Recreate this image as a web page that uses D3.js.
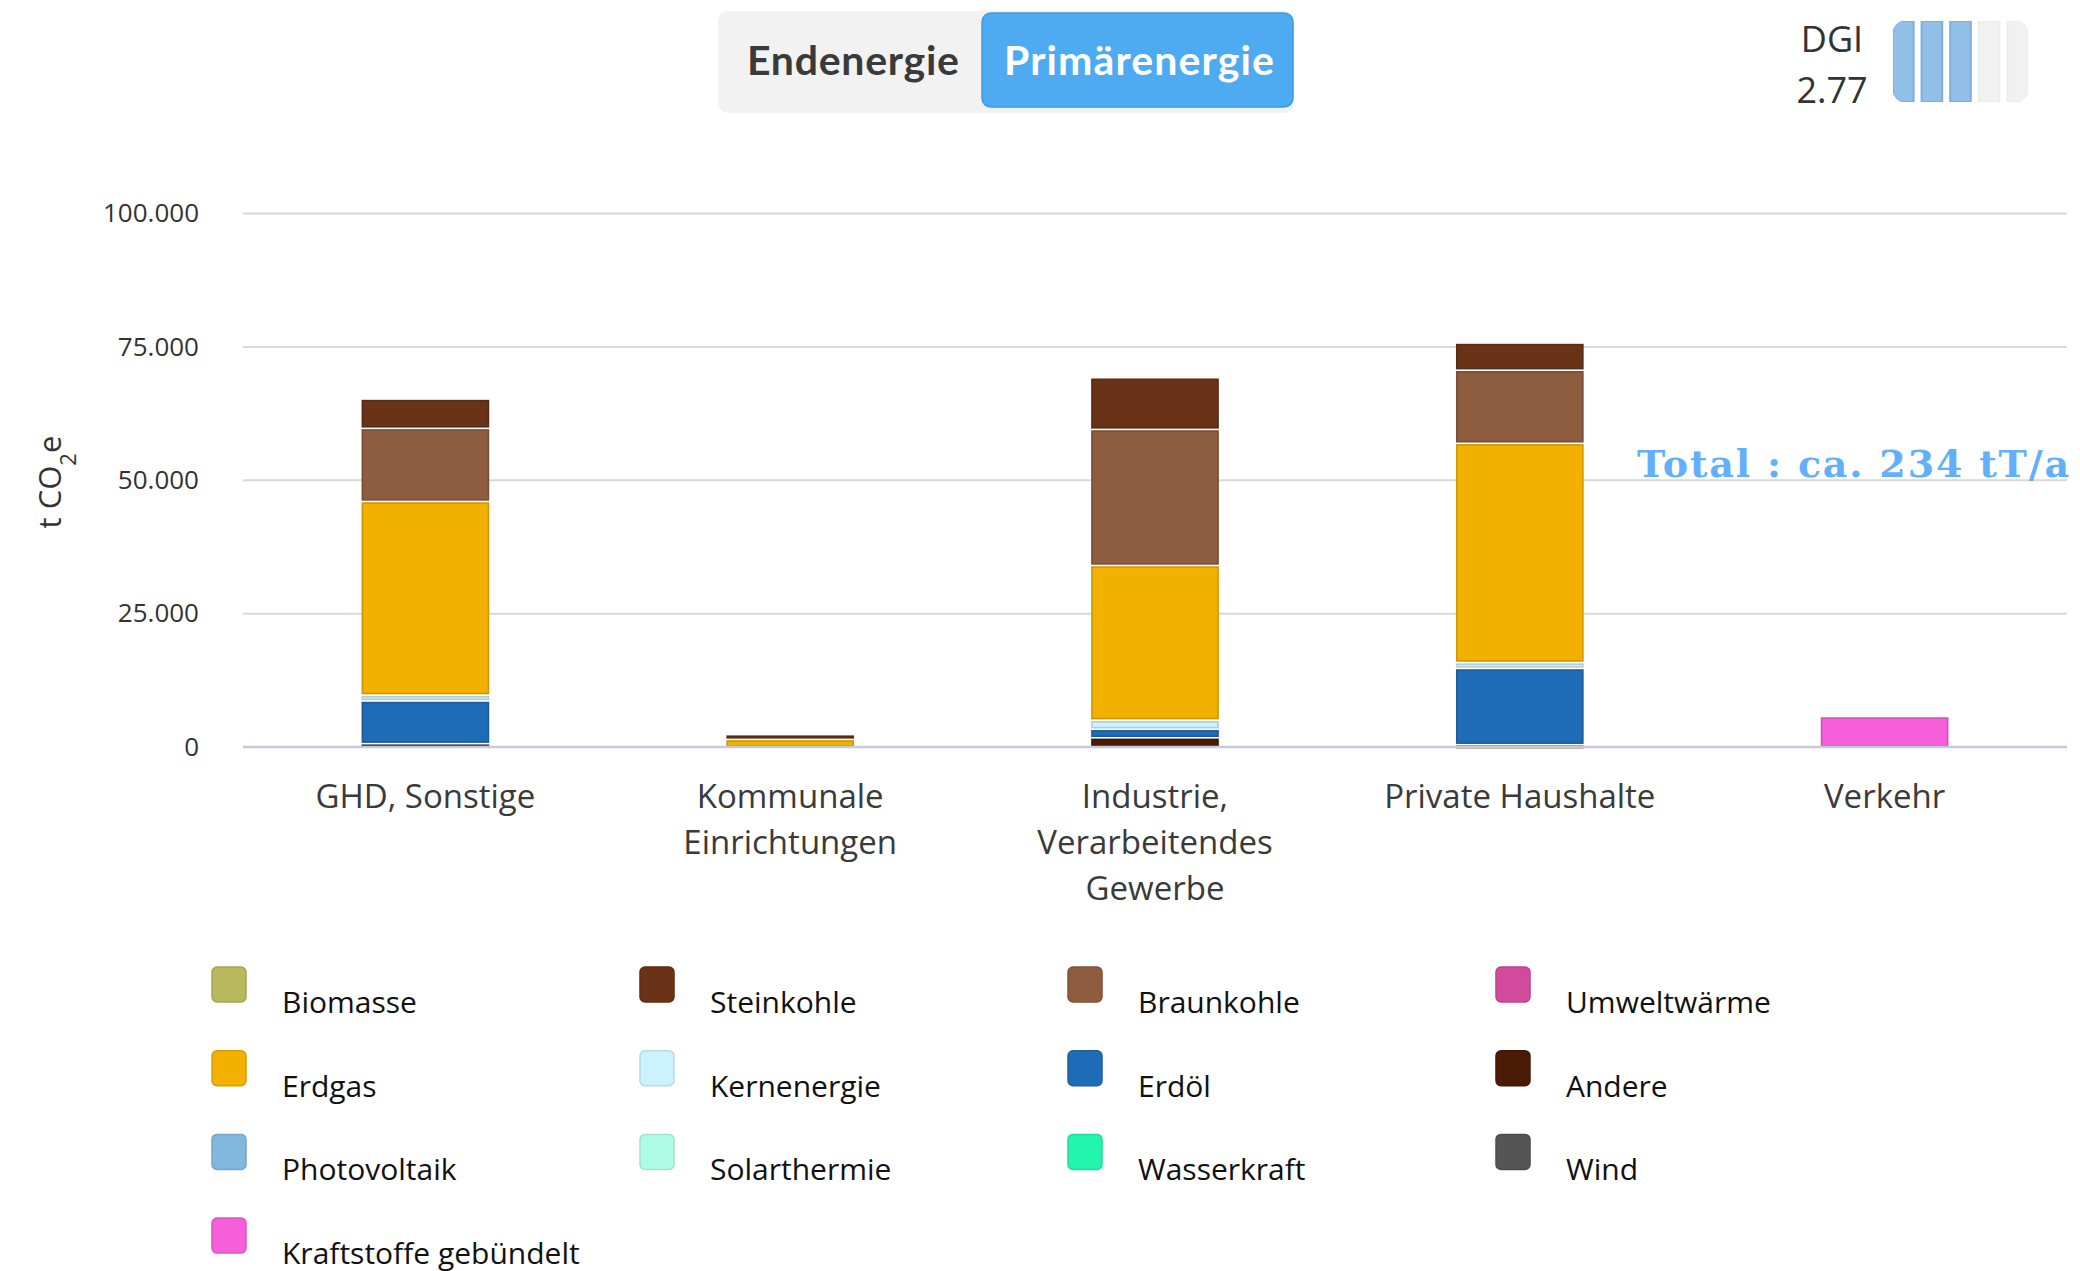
<!DOCTYPE html>
<html>
<head>
<meta charset="utf-8">
<script src="https://cdn.jsdelivr.net/npm/d3@7"></script>
<style>
  body { margin: 0; background: #fff; }
  svg { display: block; font-family: "Open Sans", sans-serif; }
</style>
</head>
<body>
<div id="chart"></div>
<script>
// categories and their wrapped labels
let categories = ["GHD, Sonstige", "Kommunale Einrichtungen", "Industrie, Verarbeitendes Gewerbe", "Private Haushalte", "Verkehr"];
let categoryLines = [["GHD, Sonstige"], ["Kommunale", "Einrichtungen"], ["Industrie,", "Verarbeitendes", "Gewerbe"], ["Private Haushalte"], ["Verkehr"]];

// series in legend order (first series sits on top of the stack)
let seriesNames = ["Biomasse", "Steinkohle", "Braunkohle", "Umweltwärme", "Erdgas", "Kernenergie", "Erdöl", "Andere",
  "Photovoltaik", "Solarthermie", "Wasserkraft", "Wind", "Kraftstoffe gebündelt"];
let seriesColors = ["#b8b85c", "#6a3216", "#8e5c3e", "#d24a9c", "#f2b000", "#ccf2ff", "#1f6cb6", "#4a1c06",
  "#82b8df", "#b0fbe6", "#24f5ae", "#555555", "#f55fd9"];

// t CO2e per category
let biomasse     = [0, 0, 0, 0, 0];
let steinkohle   = [5500, 900, 9700, 5100, 0];
let braunkohle   = [13700, 0, 25500, 13700, 0];
let umweltwaerme = [0, 0, 0, 0, 0];
let erdgas       = [36300, 1500, 29000, 41100, 0];
let kernenergie  = [1100, 0, 1700, 1100, 0];
let erdoel       = [8000, 0, 1600, 14300, 0];
let andere       = [700, 0, 1800, 500, 0];
let photovoltaik = [0, 0, 0, 0, 0];
let solarthermie = [0, 0, 0, 0, 0];
let wasserkraft  = [0, 0, 0, 0, 0];
let wind         = [0, 0, 0, 0, 0];
let kraftstoffe  = [0, 0, 0, 0, 5800];

let seriesValues = [biomasse, steinkohle, braunkohle, umweltwaerme, erdgas, kernenergie, erdoel, andere,
  photovoltaik, solarthermie, wasserkraft, wind, kraftstoffe];

let yTicks = [0, 25000, 50000, 75000, 100000];
let totalLabel = "Total : ca. 234 tT/a";
let dgiValue = "2.77";
let dgiLevel = 3; // of 5 bars

let svgWidth = 2080;
let svgHeight = 1271;

let margin = { top: 213.5, right: 13, bottom: 524, left: 243 };
let width = svgWidth - margin.left - margin.right;
let height = svgHeight - margin.top - margin.bottom;

let svg = d3.select("#chart")
  .append("svg")
  .attr("width", svgWidth)
  .attr("height", svgHeight);

// ---- toggle buttons ----
let toggle = svg.append("g");
toggle.append("rect")
  .attr("x", 718).attr("y", 11).attr("width", 576).attr("height", 102)
  .attr("rx", 10).attr("fill", "#f2f2f2");
toggle.append("rect")
  .attr("x", 982).attr("y", 13).attr("width", 311).attr("height", 94)
  .attr("rx", 9).attr("fill", "#4eabf1").attr("stroke", "#3f9be6").attr("stroke-width", 1.5);
toggle.append("text")
  .attr("x", 853).attr("y", 75)
  .attr("text-anchor", "middle")
  .attr("textLength", 212)
  .style("font-family", "Lato, sans-serif").style("font-weight", 700).style("font-size", "41px")
  .attr("fill", "#3a3a3a")
  .text("Endenergie");
toggle.append("text")
  .attr("x", 1139).attr("y", 75)
  .attr("text-anchor", "middle")
  .attr("textLength", 270)
  .style("font-family", "Lato, sans-serif").style("font-weight", 700).style("font-size", "41px")
  .attr("fill", "#fff")
  .text("Primärenergie");

// ---- DGI indicator ----
let dgi = svg.append("g");
dgi.append("text").attr("x", 1832).attr("y", 52).attr("text-anchor", "middle")
  .style("font-size", "36px").attr("fill", "#333").text("DGI");
dgi.append("text").attr("x", 1832).attr("y", 103).attr("text-anchor", "middle")
  .style("font-size", "36px").attr("fill", "#333").text(dgiValue);

let dgiX = d3.scaleBand().domain(d3.range(5)).range([1893, 2028]).paddingInner(0.28);
dgi.append("clipPath").attr("id", "dgiClip")
  .append("rect").attr("x", 1893).attr("y", 21).attr("width", 135).attr("height", 81).attr("rx", 11);
dgi.append("g").attr("clip-path", "url(#dgiClip)")
  .selectAll("rect")
  .data(d3.range(5))
  .enter()
  .append("rect")
  .attr("x", d => dgiX(d))
  .attr("y", 21)
  .attr("width", dgiX.bandwidth())
  .attr("height", 81)
  .attr("fill", d => d < dgiLevel ? "#92bfe8" : "#f1f1f1")
  .attr("stroke", d => d < dgiLevel ? "#7eaedc" : "#ececec")
  .attr("stroke-width", 2);

// ---- chart ----
let chartGroup = svg.append("g")
  .attr("transform", `translate(${margin.left}, ${margin.top})`);

let xBand = d3.scaleBand()
  .domain(categories)
  .range([0, width])
  .paddingInner(0.65)
  .paddingOuter(0.325);

let yLinear = d3.scaleLinear()
  .domain([0, 100000])
  .range([height, 0]);

let de = d3.formatLocale({ decimal: ",", thousands: ".", grouping: [3], currency: ["", " €"] });
let fmt = de.format(",");

// gridlines
chartGroup.append("g")
  .selectAll("line")
  .data(yTicks.filter(d => d > 0))
  .enter()
  .append("line")
  .attr("x1", 0).attr("x2", width)
  .attr("y1", d => yLinear(d)).attr("y2", d => yLinear(d))
  .attr("stroke", "#d8d8d8").attr("stroke-width", 2);

// y axis labels
let leftAxis = d3.axisLeft(yLinear).tickValues(yTicks).tickFormat(fmt).tickSize(0).tickPadding(44);
let yAxis = chartGroup.append("g").call(leftAxis);
yAxis.select(".domain").remove();
yAxis.selectAll("text")
  .style("font-family", "Open Sans, sans-serif")
  .style("font-size", "26px")
  .attr("fill", "#333");

// y axis title
let yTitle = svg.append("text")
  .attr("transform", "translate(61, 482) rotate(-90)")
  .attr("text-anchor", "middle")
  .style("font-size", "31px")
  .attr("fill", "#333");
yTitle.append("tspan").text("t CO");
yTitle.append("tspan").attr("baseline-shift", "sub").style("font-size", "22px").text("2");
yTitle.append("tspan").text("e");

// stacked data: reverse so the last series sits at the bottom
let table = categories.map((c, i) => {
  let row = { category: c };
  seriesNames.forEach((s, j) => { row[s] = seriesValues[j][i]; });
  return row;
});
let stack = d3.stack().keys(seriesNames.slice().reverse());
let stacked = stack(table);
let colorOf = d3.scaleOrdinal().domain(seriesNames).range(seriesColors);

let layers = chartGroup.append("g")
  .selectAll("g")
  .data(stacked)
  .enter()
  .append("g")
  .attr("fill", d => colorOf(d.key))
  .attr("stroke", d => d3.color(colorOf(d.key)).darker(0.45))
  .attr("stroke-width", 1.6);

layers.selectAll("rect")
  .data(d => d.filter(p => p[1] - p[0] > 0).map(p => ({ p: p, cat: p.data.category })))
  .enter()
  .append("rect")
  .attr("x", d => xBand(d.cat) + 0.8)
  .attr("width", xBand.bandwidth() - 1.6)
  .attr("y", d => yLinear(d.p[1]) + 2)
  .attr("height", d => Math.max(yLinear(d.p[0]) - yLinear(d.p[1]) - 3.2, 1.2));

// x axis line
chartGroup.append("line")
  .attr("x1", 0).attr("x2", width)
  .attr("y1", height).attr("y2", height)
  .attr("stroke", "#c3cadb").attr("stroke-width", 2.5);

// x labels
let xLabels = chartGroup.append("g")
  .selectAll("text")
  .data(categories)
  .enter()
  .append("text")
  .attr("text-anchor", "middle")
  .attr("x", d => xBand(d) + xBand.bandwidth() / 2)
  .attr("y", height + 61)
  .style("font-size", "33px")
  .attr("fill", "#3a3a3a");

xLabels.selectAll("tspan")
  .data((d, i) => categoryLines[i])
  .enter()
  .append("tspan")
  .attr("x", function() { return d3.select(this.parentNode).attr("x"); })
  .attr("dy", (d, i) => i === 0 ? 0 : 46)
  .text(d => d);

// total annotation
svg.append("text")
  .attr("x", 1637).attr("y", 477)
  .attr("textLength", 432)
  .attr("lengthAdjust", "spacing")
  .style("font-family", "'DejaVu Serif', serif")
  .style("font-weight", 700)
  .style("font-size", "38px")
  .attr("fill", "#62b0fb")
  .text(totalLabel);

// ---- legend ----
let legend = svg.append("g")
  .selectAll("g")
  .data(seriesNames)
  .enter()
  .append("g")
  .attr("transform", (d, i) => `translate(${212 + (i % 4) * 428}, ${967 + Math.floor(i / 4) * 83.7})`);

legend.append("rect")
  .attr("width", 34).attr("height", 35).attr("rx", 5)
  .attr("fill", d => colorOf(d))
  .attr("stroke", d => d3.color(colorOf(d)).darker(0.3))
  .attr("stroke-width", 1.5);

legend.append("text")
  .attr("x", 70).attr("y", 46)
  .style("font-size", "30px")
  .attr("fill", "#111")
  .text(d => d);
</script>
</body>
</html>
